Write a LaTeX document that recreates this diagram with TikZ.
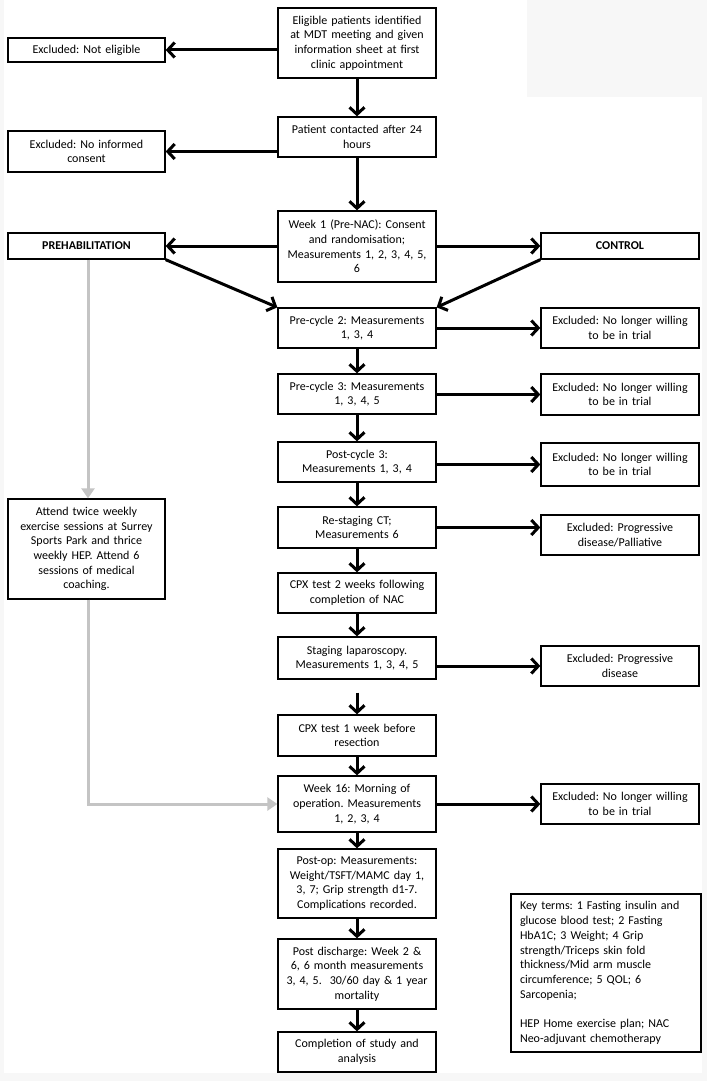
\documentclass[tikz,border=0pt]{standalone}
\usepackage{fontspec}
\setmainfont{Carlito}
\usetikzlibrary{arrows.meta,calc}
\definecolor{bggray}{HTML}{F7F7F7}
\definecolor{prehabgray}{HTML}{C4C4C4}
\frenchspacing
\tikzset{
  box/.style={draw=black, line width=1.3pt, fill=white, align=center, inner sep=2pt,
    font=\fontsize{12}{14.7}\selectfont},
  mainbox/.style={box, minimum width=158, text width=152},
  sidebox/.style={box, minimum width=157, text width=151},
  flow/.style={line width=3pt, -{Straight Barb[length=7,width=15,line width=3pt]}},
  grayflow/.style={line width=3pt, draw=prehabgray, -{Triangle[length=10,width=13]}},
}
\begin{document}
\begin{tikzpicture}[x=1pt,y=-1pt]
\fill[bggray] (0,0) rectangle (707,1081);
\fill[white] (4,0) rectangle (702,1073);
\fill[bggray] (527,0) rectangle (707,97);
\useasboundingbox (0,0) rectangle (707,1081);

% main column
\node[mainbox, minimum height=70] (top) at (357,43) {Eligible patients identified\\at MDT meeting and given\\information sheet at first\\clinic appointment};
\node[mainbox, minimum height=40] (patient) at (357,137) {Patient contacted after 24\\hours};
\node[mainbox, minimum height=71] (week1) at (357,246.5) {Week 1 (Pre-NAC): Consent\\and randomisation;\\Measurements 1, 2, 3, 4, 5,\\6};
\node[mainbox, minimum height=40] (pc2) at (357,328) {Pre-cycle 2: Measurements\\1, 3, 4};
\node[mainbox, minimum height=40] (pc3) at (357,394) {Pre-cycle 3: Measurements\\1, 3, 4, 5};
\node[mainbox, minimum height=40] (post3) at (357,462) {Post-cycle 3:\\Measurements 1, 3, 4};
\node[mainbox, minimum height=41] (restage) at (357,527.5) {Re-staging CT;\\Measurements 6};
\node[mainbox, minimum height=40] (cpx2) at (357,593) {CPX test 2 weeks following\\completion of NAC};
\node[mainbox, minimum height=42] (staging) at (357,658) {Staging laparoscopy.\\Measurements 1, 3, 4, 5};
\node[mainbox, minimum height=41] (cpx1) at (357,735.5) {CPX test 1 week before\\resection};
\node[mainbox, minimum height=56] (week16) at (357,804) {Week 16: Morning of\\operation. Measurements\\1, 2, 3, 4};
\node[mainbox, minimum height=69] (postop) at (357,883.5) {Post-op: Measurements:\\Weight/TSFT/MAMC day 1,\\3, 7; Grip strength d1-7.\\Complications recorded.};
\node[mainbox, minimum height=70] (postdis) at (357,974) {Post discharge: Week 2 \&\\6, 6 month measurements\\3, 4, 5.\ \ 30/60 day \& 1 year\\mortality};
\node[mainbox, minimum height=40] (complete) at (357,1052) {Completion of study and\\analysis};

% left column
\node[sidebox, minimum height=24] (notelig) at (86.5,50) {Excluded: Not eligible};
\node[sidebox, minimum height=41] (noconsent) at (86.5,151.5) {Excluded: No informed\\consent};
\node[sidebox, minimum height=26, font=\fontsize{12}{14.7}\selectfont\bfseries] (prehab) at (86.5,246) {PREHABILITATION};
\node[sidebox, minimum height=100] (attend) at (86.5,549) {Attend twice weekly\\exercise sessions at Surrey\\Sports Park and thrice\\weekly HEP. Attend 6\\sessions of medical\\coaching.};

% right column
\node[mainbox, minimum height=26, font=\fontsize{12}{14.7}\selectfont\bfseries] (control) at (620,246) {CONTROL};
\node[mainbox, minimum height=40] (ex1) at (620,328) {Excluded: No longer willing\\to be in trial};
\node[mainbox, minimum height=41] (ex2) at (620,394.5) {Excluded: No longer willing\\to be in trial};
\node[mainbox, minimum height=43] (ex3) at (620,464.5) {Excluded: No longer willing\\to be in trial};
\node[mainbox, minimum height=40] (ex4) at (620,535) {Excluded: Progressive\\disease/Palliative};
\node[mainbox, minimum height=40] (ex5) at (620,666) {Excluded: Progressive\\disease};
\node[mainbox, minimum height=40] (ex6) at (620,804) {Excluded: No longer willing\\to be in trial};

% key
\node[box, align=left, minimum width=190, text width=172, minimum height=158, inner sep=0pt] (key) at (606,973)
{Key terms: 1 Fasting insulin and\\glucose blood test; 2 Fasting\\HbA1C; 3 Weight; 4 Grip\\strength/Triceps skin fold\\thickness/Mid arm muscle\\circumference; 5 QOL; 6\\Sarcopenia;\\[14.7pt]HEP Home exercise plan; NAC\\Neo-adjuvant chemotherapy};

% vertical flow
\draw[flow] (top) -- (patient);
\draw[flow] (patient) -- (week1);
\draw[flow] (pc2) -- (pc3);
\draw[flow] (pc3) -- (post3);
\draw[flow] (post3) -- (restage);
\draw[flow] (restage) -- (cpx2);
\draw[flow] (cpx2) -- (staging);
\coordinate (stgap) at ($(staging.south)+(0,13)$);
\draw[flow] (stgap) -- (cpx1.north);
\draw[flow] (cpx1) -- (week16);
\draw[flow] (week16) -- (postop);
\draw[flow] (postop) -- (postdis);
\draw[flow] (postdis) -- (complete);

% exclusions
\draw[flow] (top.west |- notelig.east) -- (notelig.east);
\draw[flow] (patient.west |- noconsent.east) -- (noconsent.east);
\draw[flow] (week1.west |- prehab.east) -- (prehab.east);
\draw[flow] (week1.east |- control.west) -- (control.west);
\draw[flow] (prehab.south east) -- (pc2.north west);
\draw[flow] (control.south west) -- (pc2.north east);
\draw[flow] (pc2.east) -- (ex1.west);
\draw[flow] (pc3.east |- ex2.west) -- (ex2.west);
\draw[flow] (post3.east |- ex3.west) -- (ex3.west);
\draw[flow] (restage.east) -- (restage.east -| ex4.west);
\draw[flow] (staging.east |- ex5.west) -- (ex5.west);
\draw[flow] (week16.east) -- (ex6.west);

% prehabilitation pathway
\coordinate (gx) at (88,0);
\draw[grayflow] (prehab.south -| gx) -- (attend.north -| gx);
\draw[grayflow] (attend.south -| gx) |- (week16.west);
\end{tikzpicture}
\end{document}
